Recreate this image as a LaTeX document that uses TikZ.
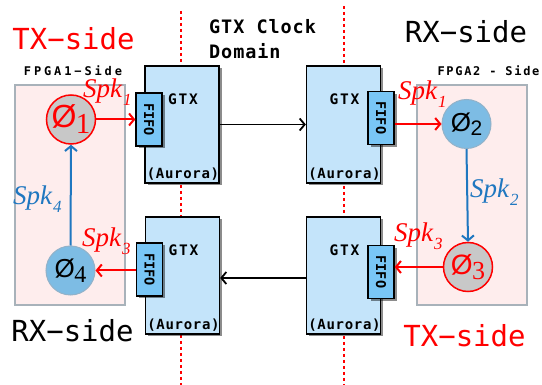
\documentclass[tikz,border=0pt]{standalone}
\usepackage{fontspec}
\setmainfont{Liberation Serif}
\newfontfamily\mono{DejaVu Sans Mono}
\newfontfamily\sansf{Liberation Sans}
\usetikzlibrary{arrows.meta,shadows,calc}
\definecolor{gtxfill}{HTML}{C4E4FA}
\definecolor{fifofill}{HTML}{79C6F6}
\definecolor{circblue}{HTML}{7DBCE4}
\definecolor{circborder}{HTML}{92B2C9}
\definecolor{circgray}{HTML}{C8C8C8}
\definecolor{spkblue}{HTML}{1F77C0}
\definecolor{pinkfill}{HTML}{FEEDED}
\definecolor{pinkborder}{HTML}{A8B2BA}
\newcommand{\spklab}[1]{Spk\kern1pt\raisebox{-8pt}{\fontsize{17}{17}\selectfont #1}}
\newcommand{\phinode}[5]{{\sansf\fontsize{#1}{#1}\selectfont Ø}\kern-0.5pt\raisebox{-#3pt}{#5\fontsize{#2}{#2}\selectfont #4}}
\begin{document}
\begin{tikzpicture}[x=1pt,y=-1pt,
  shad/.style={drop shadow={shadow xshift=2.5pt,shadow yshift=-2.5pt,fill=black,opacity=0.45}},
  gtxbox/.style={draw=black,line width=1.3pt,fill=gtxfill,minimum width=74pt,minimum height=117pt,inner sep=0pt,shad},
  fifobox/.style={draw=black,line width=1.3pt,fill=fifofill,minimum width=26pt,minimum height=53pt,inner sep=0pt,shad},
  fpgabox/.style={draw=pinkborder,line width=1.5pt,fill=pinkfill,minimum width=110pt,minimum height=220pt,inner sep=0pt},
  txcirc/.style={circle,draw=red,line width=1.5pt,fill=circgray,minimum size=49pt,inner sep=0pt,text=red},
  rxcirc/.style={circle,draw=circborder,line width=1pt,fill=circblue,minimum size=49pt,inner sep=0pt,text=black},
  redarrow/.style={draw=red,line width=2pt,-{Straight Barb[length=5pt,width=12pt]}},
  bluearrow/.style={draw=spkblue,line width=2pt,-{Straight Barb[length=5pt,width=12pt]}},
  blackarrow/.style={draw=black,line width=1.8pt,-{Straight Barb[length=5pt,width=12pt]}},
  dotline/.style={draw=red,line width=2pt,dash pattern=on 3pt off 3pt},
  bigtxt/.style={font=\mono\fontsize{29}{29}\selectfont,inner sep=0pt,anchor=base},
  fpgalbl/.style={font=\mono\bfseries\fontsize{12}{12}\selectfont\addfontfeatures{LetterSpace=#1},inner sep=0pt,anchor=base},
  gtxlbl/.style={font=\mono\bfseries\fontsize{14.5}{14.5}\selectfont\addfontfeatures{LetterSpace=12},inner sep=0pt,anchor=base},
  aurlbl/.style={font=\mono\bfseries\fontsize{14}{14}\selectfont\addfontfeatures{LetterSpace=5},inner sep=0pt,anchor=base},
  fifolbl/.style={font=\mono\bfseries\fontsize{13.5}{13.5}\selectfont,inner sep=0pt,rotate=-90},
  spklbl/.style={font=\fontsize{27}{27}\selectfont\itshape,inner sep=0pt,anchor=base west},
  domlbl/.style={font=\mono\bfseries\fontsize{18.5}{25}\selectfont\addfontfeatures{LetterSpace=5},inner sep=0pt,anchor=north west,align=left}
]
\useasboundingbox (0,0) rectangle (542,385);
% dotted clock-domain borders
\coordinate (dla) at (180.5,11);
\coordinate (dlb) at (180.5,385);
\coordinate (dra) at (343.5,6);
\coordinate (drb) at (343.5,385);
\draw[dotline] (dla) -- (dlb);
\draw[dotline] (dra) -- (drb);
% FPGA boxes
\node[fpgabox] (f1) at (70,195) {};
\node[fpgabox] (f2) at (472,195) {};
% titles
\node[bigtxt,text=red] (txl) at (73.5,50) {TX−side};
\node[bigtxt,text=black] (rxr) at (466,43) {RX−side};
\node[bigtxt,text=black] (rxl) at (72.5,342) {RX−side};
\node[bigtxt,text=red] (txr) at (464.5,347) {TX−side};
\node[fpgalbl=24] (fl1) at (73,75.5) {FPGA1−Side};
\node[fpgalbl=14] (fl2) at (488.5,75.5) {FPGA2 - Side};
\node[domlbl] (dom) at (209,19) {GTX Clock\\Domain};
% GTX boxes
\node[gtxbox] (g1) at (182,124.5) {};
\node[gtxbox] (g2) at (343.5,124.5) {};
\node[gtxbox] (g3) at (182.5,275.5) {};
\node[gtxbox] (g4) at (343.5,275.5) {};
\foreach \g in {g1,g2,g3,g4}{
  \node[gtxlbl] (\g t) at ($(\g.north)+(1,39)$) {GTX};
  \node[aurlbl] (\g a) at ($(\g.south)+(1,-5)$) {(Aurora)};
}
% FIFO boxes
\node[fifobox] (q1) at (149,119.5) {};
\node[fifobox] (q2) at (381,118) {};
\node[fifobox] (q3) at (149.5,269.5) {};
\node[fifobox] (q4) at (381,272) {};
\foreach \q in {q1,q2,q3,q4}{
  \node[fifolbl] (\q t) at (\q) {FIFO};
}
% neurons
\node[txcirc] (c1) at (71,119.5) {\phinode{32}{29}{6}{1}{\rmfamily}};
\node[rxcirc] (c2) at (466.5,124) {\phinode{26}{21}{4}{2}{\sansf}};
\node[txcirc] (c3) at (468,267) {\phinode{28}{26}{5}{3}{\rmfamily}};
\node[rxcirc] (c4) at (70.5,270.5) {\phinode{26}{24}{5}{4}{\rmfamily}};
% connectors
\draw[redarrow] (c1.east) -- (c1.east -| q1.west);
\draw[redarrow] (c2.west -| q2.east) -- (c2.west);
\draw[redarrow] (c3.west) -- (c3.west -| q4.east);
\draw[redarrow] (c4.east -| q3.west) -- (c4.east);
\draw[blackarrow] (g1.east) -- (g2.west);
\draw[blackarrow] ($(g4.west)+(0,2.5)$) -- ($(g3.east)+(0,2.5)$);
\draw[bluearrow] (c4.north) -- (c1.south);
\draw[bluearrow] (c2.south) -- (c3.north);
% spike labels
\node[spklbl,text=red] (s1l) at (83,98) {\spklab{1}};
\node[spklbl,text=red] (s1r) at (398,100) {\spklab{1}};
\node[spklbl,text=spkblue] (s2) at (470,198) {\spklab{2}};
\node[spklbl,text=red] (s3r) at (394,242) {\spklab{3}};
\node[spklbl,text=red] (s3l) at (82,247) {\spklab{3}};
\node[spklbl,text=spkblue] (s4) at (13,205) {\spklab{4}};
\end{tikzpicture}
\end{document}
